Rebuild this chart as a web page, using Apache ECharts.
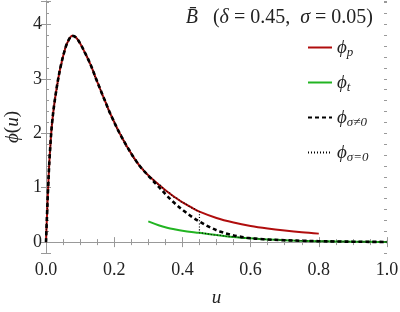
<!DOCTYPE html>
<html><head><meta charset="utf-8">
<script src="https://cdn.jsdelivr.net/npm/echarts@6/dist/echarts.min.js"></script>
<style>html,body{margin:0;padding:0;background:#fff}#c{width:400px;height:312px}</style>
</head><body><div id="c"></div>
<script>
// ---- data ----
const uRed = [0, 0.003, 0.0064, 0.011, 0.018, 0.028, 0.042, 0.057, 0.067, 0.077, 0.088, 0.101, 0.115, 0.13, 0.15, 0.17, 0.19, 0.216, 0.24, 0.26, 0.28, 0.306, 0.33, 0.355, 0.38, 0.403, 0.43, 0.45, 0.5, 0.55, 0.6, 0.65, 0.7, 0.75, 0.8];
const vRed = [0, 0.5, 1.02, 1.6, 2.2, 2.7, 3.2, 3.57, 3.72, 3.79, 3.76, 3.64, 3.47, 3.27, 2.95, 2.64, 2.34, 2.00, 1.73, 1.53, 1.36, 1.19, 1.06, 0.93, 0.815, 0.72, 0.625, 0.56, 0.443, 0.36, 0.297, 0.25, 0.212, 0.18, 0.156];

const uGreen = [0.3, 0.33, 0.355, 0.38, 0.40, 0.45, 0.5, 0.54, 0.6, 0.64, 0.7, 0.74, 0.8, 0.85, 0.9, 0.95, 1.0];
const vGreen = [0.38, 0.31, 0.265, 0.232, 0.21, 0.17, 0.13, 0.10, 0.07, 0.052, 0.035, 0.026, 0.017, 0.012, 0.008, 0.005, 0.003];

// sigma != 0 (dashed): follows red up to ~0.28, then falls onto green
const uDashTail = [0.306, 0.33, 0.355, 0.38, 0.403, 0.43, 0.452, 0.48, 0.51, 0.54, 0.565, 0.589, 0.637, 0.7, 0.75, 0.8, 0.85, 0.9, 0.95, 1.0];
const vDashTail = [1.18, 1.02, 0.85, 0.70, 0.58, 0.455, 0.37, 0.275, 0.195, 0.14, 0.105, 0.08, 0.053, 0.035, 0.025, 0.017, 0.012, 0.008, 0.005, 0.003];

const switchU = 0.45; // delta: sigma = 0 curve jumps from red to green here

const xTicks = ['0.0', '0.2', '0.4', '0.6', '0.8', '1.0'];
const yTicks = ['0', '1', '2', '3', '4'];

const legendLabels = {
  phi_p: '{a|ϕ}{b|p}',
  phi_t: '{a|ϕ}{b|t}',
  phi_sn: '{a|ϕ}{b|σ≠0}',
  phi_s0: '{a|ϕ}{b|σ=0}'
};

// ---- build series data ----
const red = uRed.map((u, i) => [u, vRed[i]]);
const green = uGreen.map((u, i) => [u, vGreen[i]]);
const dashed = red.filter(p => p[0] <= 0.28).concat(uDashTail.map((u, i) => [u, vDashTail[i]]));
const dotted = red.filter(p => p[0] <= switchU).concat(green.filter(p => p[0] >= switchU));

const SERIF = '"Liberation Serif", "DejaVu Serif", serif';
const FR = '#999';
const gridRect = {left: 46, right: 13, top: 1, bottom: 59, outerBoundsMode: 'none', containLabel: false};
const yMin = -0.2, yMax = 4.43;

const richLeg = {
  a: {fontFamily: SERIF, fontStyle: 'italic', fontSize: 19, color: '#222', lineHeight: 24},
  b: {fontFamily: SERIF, fontStyle: 'italic', fontSize: 13, color: '#222', verticalAlign: 'bottom'}
};
function mkLegend(name, top) {
  return {
    data: [name], left: 307, top: top, orient: 'vertical', itemWidth: 24, itemHeight: 14,
    padding: 0, selectedMode: false,
    itemStyle: {color: 'rgba(0,0,0,0)', borderColor: 'rgba(0,0,0,0)', borderWidth: 0},
    formatter: n => legendLabels[n],
    textStyle: {rich: richLeg}
  };
}

const chart = echarts.init(document.getElementById('c'), null, {renderer: 'canvas'});
chart.setOption({
  animation: false,
  backgroundColor: '#fff',
  grid: [Object.assign({}, gridRect), Object.assign({}, gridRect)],
  title: {
    text: '{i|B̄}{r|   (}{i|δ}{r| = 0.45,  }{i|σ}{r| = 0.05)}',
    right: 27, top: 8, padding: 0,
    textStyle: {fontWeight: 'normal', rich: {
      i: {fontFamily: SERIF, fontStyle: 'italic', fontWeight: 'normal', fontSize: 20, color: '#222'},
      r: {fontFamily: SERIF, fontWeight: 'normal', fontSize: 20, color: '#222'}
    }}
  },
  legend: [mkLegend('phi_p', 38), mkLegend('phi_t', 73), mkLegend('phi_sn', 108), mkLegend('phi_s0', 143)],
  xAxis: [
    {type: 'value', gridIndex: 0, min: 0, max: 1, interval: 0.2, position: 'bottom',
     axisLine: {show: true, lineStyle: {color: FR}},
     axisTick: {show: true, inside: true, length: 5, lineStyle: {color: FR}},
     minorTick: {show: true, splitNumber: 4, length: 3, lineStyle: {color: FR}},
     splitLine: {show: false},
     axisLabel: {formatter: (v) => xTicks[Math.round(v / 0.2)] || '', fontFamily: SERIF, fontSize: 18, color: '#222', margin: 8},
     name: 'u', nameLocation: 'middle', nameGap: 35,
     nameTextStyle: {fontFamily: SERIF, fontStyle: 'italic', fontSize: 19, color: '#222'}},
    {type: 'value', gridIndex: 0, min: 0, max: 1, interval: 0.2, position: 'top',
     axisLine: {show: true, lineStyle: {color: FR}},
     axisTick: {show: true, inside: true, length: 5, lineStyle: {color: FR}},
     minorTick: {show: true, splitNumber: 4, length: 3, lineStyle: {color: FR}},
     splitLine: {show: false}, axisLabel: {show: false}},
    {type: 'value', gridIndex: 1, min: 0, max: 1, show: false}
  ],
  yAxis: [
    {type: 'value', gridIndex: 0, min: yMin, max: yMax, minInterval: 1, maxInterval: 1, position: 'left',
     axisLine: {show: true, lineStyle: {color: FR}},
     axisTick: {show: true, inside: true, length: 5, lineStyle: {color: FR}},
     splitLine: {show: false},
     axisLabel: {formatter: (v) => (Math.abs(v - Math.round(v)) < 1e-6 ? (yTicks[Math.round(v)] || '') : ''), fontFamily: SERIF, fontSize: 18, color: '#222', margin: 4},
     name: '{a|ϕ}{r|(}{a|u}{r|)}', nameLocation: 'middle', nameGap: 24, nameRotate: 90,
     nameTextStyle: {rich: {
       a: {fontFamily: SERIF, fontStyle: 'italic', fontSize: 19, color: '#222'},
       r: {fontFamily: SERIF, fontSize: 19, color: '#222'}
     }}},
    {type: 'value', gridIndex: 0, min: yMin, max: yMax, minInterval: 1, maxInterval: 1, position: 'right',
     axisLine: {show: true, lineStyle: {color: FR}},
     axisTick: {show: true, inside: true, length: 5, lineStyle: {color: FR}},
     splitLine: {show: false}, axisLabel: {show: false}},
    {type: 'value', gridIndex: 1, min: yMin, max: yMax, interval: 0.2, position: 'left',
     axisLine: {show: false},
     axisTick: {show: true, inside: true, length: 3, lineStyle: {color: FR}},
     splitLine: {show: false}, axisLabel: {show: false}},
    {type: 'value', gridIndex: 1, min: yMin, max: yMax, interval: 0.2, position: 'right',
     axisLine: {show: false},
     axisTick: {show: true, inside: true, length: 3, lineStyle: {color: FR}},
     splitLine: {show: false}, axisLabel: {show: false}}
  ],
  series: [
    {name: 'phi_p', type: 'line', xAxisIndex: 0, yAxisIndex: 0, data: red, symbol: 'none', smooth: 0.35,
     lineStyle: {color: '#b00d0d', width: 2}, itemStyle: {color: '#b00d0d'}, z: 2},
    {name: 'phi_t', type: 'line', xAxisIndex: 0, yAxisIndex: 0, data: green, symbol: 'none', smooth: 0.35,
     lineStyle: {color: '#22b422', width: 2}, itemStyle: {color: '#22b422'}, z: 3},
    {name: 'phi_sn', type: 'line', xAxisIndex: 0, yAxisIndex: 0, data: dashed, symbol: 'none', smooth: 0.35,
     lineStyle: {color: '#000', width: 2.6, type: [4, 3]}, itemStyle: {color: '#000'}, z: 4},
    {name: 'phi_s0', type: 'line', xAxisIndex: 0, yAxisIndex: 0, data: dotted, symbol: 'none', smooth: 0.35, smoothMonotone: 'x',
     lineStyle: {color: '#000', width: 1.2, type: [1, 2]}, itemStyle: {color: '#000'}, z: 5}
  ]
});
</script></body></html>
